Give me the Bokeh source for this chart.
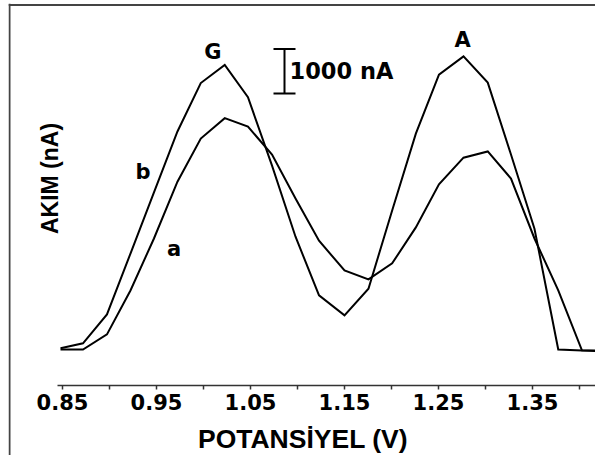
import math
from bokeh.plotting import figure
from bokeh.models import Range1d, FixedTicker, Span, Label, LinearAxis
from bokeh.embed import file_html
from bokeh.resources import INLINE

# ---------------- data ----------------
potential_v = [0.8479, 0.8718, 0.8973, 0.9223, 0.9473, 0.9723, 0.9971, 1.0226,
               1.0473, 1.0729, 1.0979, 1.1229, 1.1500, 1.1755, 1.2007, 1.2259,
               1.2505, 1.2766, 1.3024, 1.3271, 1.3521, 1.3774, 1.4026, 1.4277]
current_a = [0, 0, 340, 1330, 2500, 3780, 4750, 5210, 5020, 4390, 3400, 2450,
             1780, 1580, 1940, 2750, 3720, 4320, 4460, 3850, 2500, 1330, -20, -40]
current_b = [30, 140, 790, 2160, 3540, 4910, 6000, 6410, 5680, 4140, 2540, 1220,
             770, 1370, 3130, 4860, 6190, 6600, 6010, 4390, 2720, 0, -20, -20]

major_ticks = [0.85, 0.95, 1.05, 1.15, 1.25, 1.35]
tick_labels = ["0.85", "0.95", "1.05", "1.15", "1.25", "1.35"]
minor_ticks = [0.90, 1.00, 1.10, 1.20, 1.30, 1.40]

scale_bar_na = 1000
scale_bar_label = "1000 nA"
x_title = "POTANSİYEL (V)"
y_title = "AKIM (nA)"
peak_labels = ["G", "A"]
curve_labels = ["a", "b"]

# ---------------- view (pixel <-> data helpers for the layout) ----------------
PX_PER_V = 940.0
NA_PER_PX = 22.52


def xv(px):
    return 0.85 + (px - 62) / PX_PER_V


def yv(py):
    return (349 - py) * NA_PER_PX


p = figure(width=595, height=455,
           x_range=Range1d(xv(8), xv(595)), y_range=Range1d(yv(455), yv(3)),
           output_backend="svg", toolbar_location=None,
           min_border_left=8, min_border_top=3, min_border_right=0, min_border_bottom=0)
p.xgrid.visible = False
p.ygrid.visible = False
p.outline_line_color = None
p.background_fill_color = "white"
p.border_fill_color = "white"

# box edges (left and top visible)
p.add_layout(Span(location=xv(9), dimension="height", line_color="#444444", line_width=2))
p.add_layout(Span(location=yv(4.5), dimension="width", line_color="#444444", line_width=2))

# x axis: line, ticks and tick labels
xa = p.xaxis[0]
xa.fixed_location = yv(385)
xa.bounds = (xv(57), 1.5)
xa.ticker = FixedTicker(ticks=major_ticks, minor_ticks=minor_ticks)
xa.major_label_overrides = {t: s for t, s in zip(major_ticks, tick_labels)}
xa.axis_line_color = "#333333"
xa.axis_line_width = 1.5
xa.major_tick_line_color = "#333333"
xa.minor_tick_line_color = "#333333"
xa.major_tick_line_width = 1.5
xa.minor_tick_line_width = 1.5
xa.major_tick_in = 0
xa.major_tick_out = 4
xa.minor_tick_in = 0
xa.minor_tick_out = 4
xa.major_label_text_font = "DejaVu Sans"
xa.major_label_text_font_style = "bold"
xa.major_label_text_font_size = "21px"
xa.major_label_text_color = "black"
xa.major_label_standoff = 4

# x axis title (separate axis, centred on the whole box)
xt = LinearAxis(fixed_location=yv(385), bounds=(xv(10), xv(595)),
                ticker=FixedTicker(ticks=[]), axis_line_color=None,
                major_tick_line_color=None, minor_tick_line_color=None,
                major_tick_out=0, major_tick_in=0, minor_tick_out=0, minor_tick_in=0,
                major_label_standoff=0,
                axis_label=x_title, axis_label_text_font="Liberation Sans",
                axis_label_text_font_style="bold", axis_label_text_font_size="26.5px",
                axis_label_text_color="black", axis_label_standoff=38)
p.add_layout(xt, "below")

# y axis has no line, ticks or numbers in the original: only its title is shown
p.yaxis.visible = False
p.add_layout(Label(x=xv(49), y=yv(178), text=y_title, angle=math.pi / 2,
                   text_font="Liberation Sans", text_font_style="bold", text_font_size="23px",
                   text_align="center", text_baseline="middle", text_color="black"))

# curves
p.line(potential_v, current_a, line_color="black", line_width=2, line_join="miter")
p.line(potential_v, current_b, line_color="black", line_width=2, line_join="miter")

# scale bar
bar_x = xv(284)
bar_base = yv(93)
cap = 11 / PX_PER_V
p.segment(x0=[bar_x, bar_x - cap, bar_x - cap], y0=[bar_base, bar_base, bar_base + scale_bar_na],
          x1=[bar_x, bar_x + cap, bar_x + cap], y1=[bar_base + scale_bar_na, bar_base, bar_base + scale_bar_na],
          line_color="black", line_width=2)
p.add_layout(Label(x=bar_x, y=bar_base + scale_bar_na / 2, x_offset=5, text=scale_bar_label,
                   text_font="DejaVu Sans", text_font_style="bold", text_font_size="22.5px",
                   text_align="left", text_baseline="middle", text_color="black"))

# peak labels on curve b
half = len(potential_v) // 2
i_g = max(range(0, half), key=lambda i: current_b[i])
i_a = max(range(half, len(potential_v)), key=lambda i: current_b[i])
lab_style = dict(text_font="DejaVu Sans", text_font_style="bold", text_font_size="21px",
                 text_align="center", text_baseline="middle", text_color="black")
p.add_layout(Label(x=potential_v[i_g], y=current_b[i_g], x_offset=-12, y_offset=12.5,
                   text=peak_labels[0], **lab_style))
p.add_layout(Label(x=potential_v[i_a], y=current_b[i_a], x_offset=-1, y_offset=16.5,
                   text=peak_labels[1], **lab_style))
# curve labels
p.add_layout(Label(x=potential_v[4], y=current_a[4], x_offset=20, y_offset=-11,
                   text=curve_labels[0], **lab_style))
p.add_layout(Label(x=potential_v[4], y=current_b[4], x_offset=-11, y_offset=20,
                   text=curve_labels[1], **lab_style))

open("out.html", "w").write(file_html(p, INLINE))
